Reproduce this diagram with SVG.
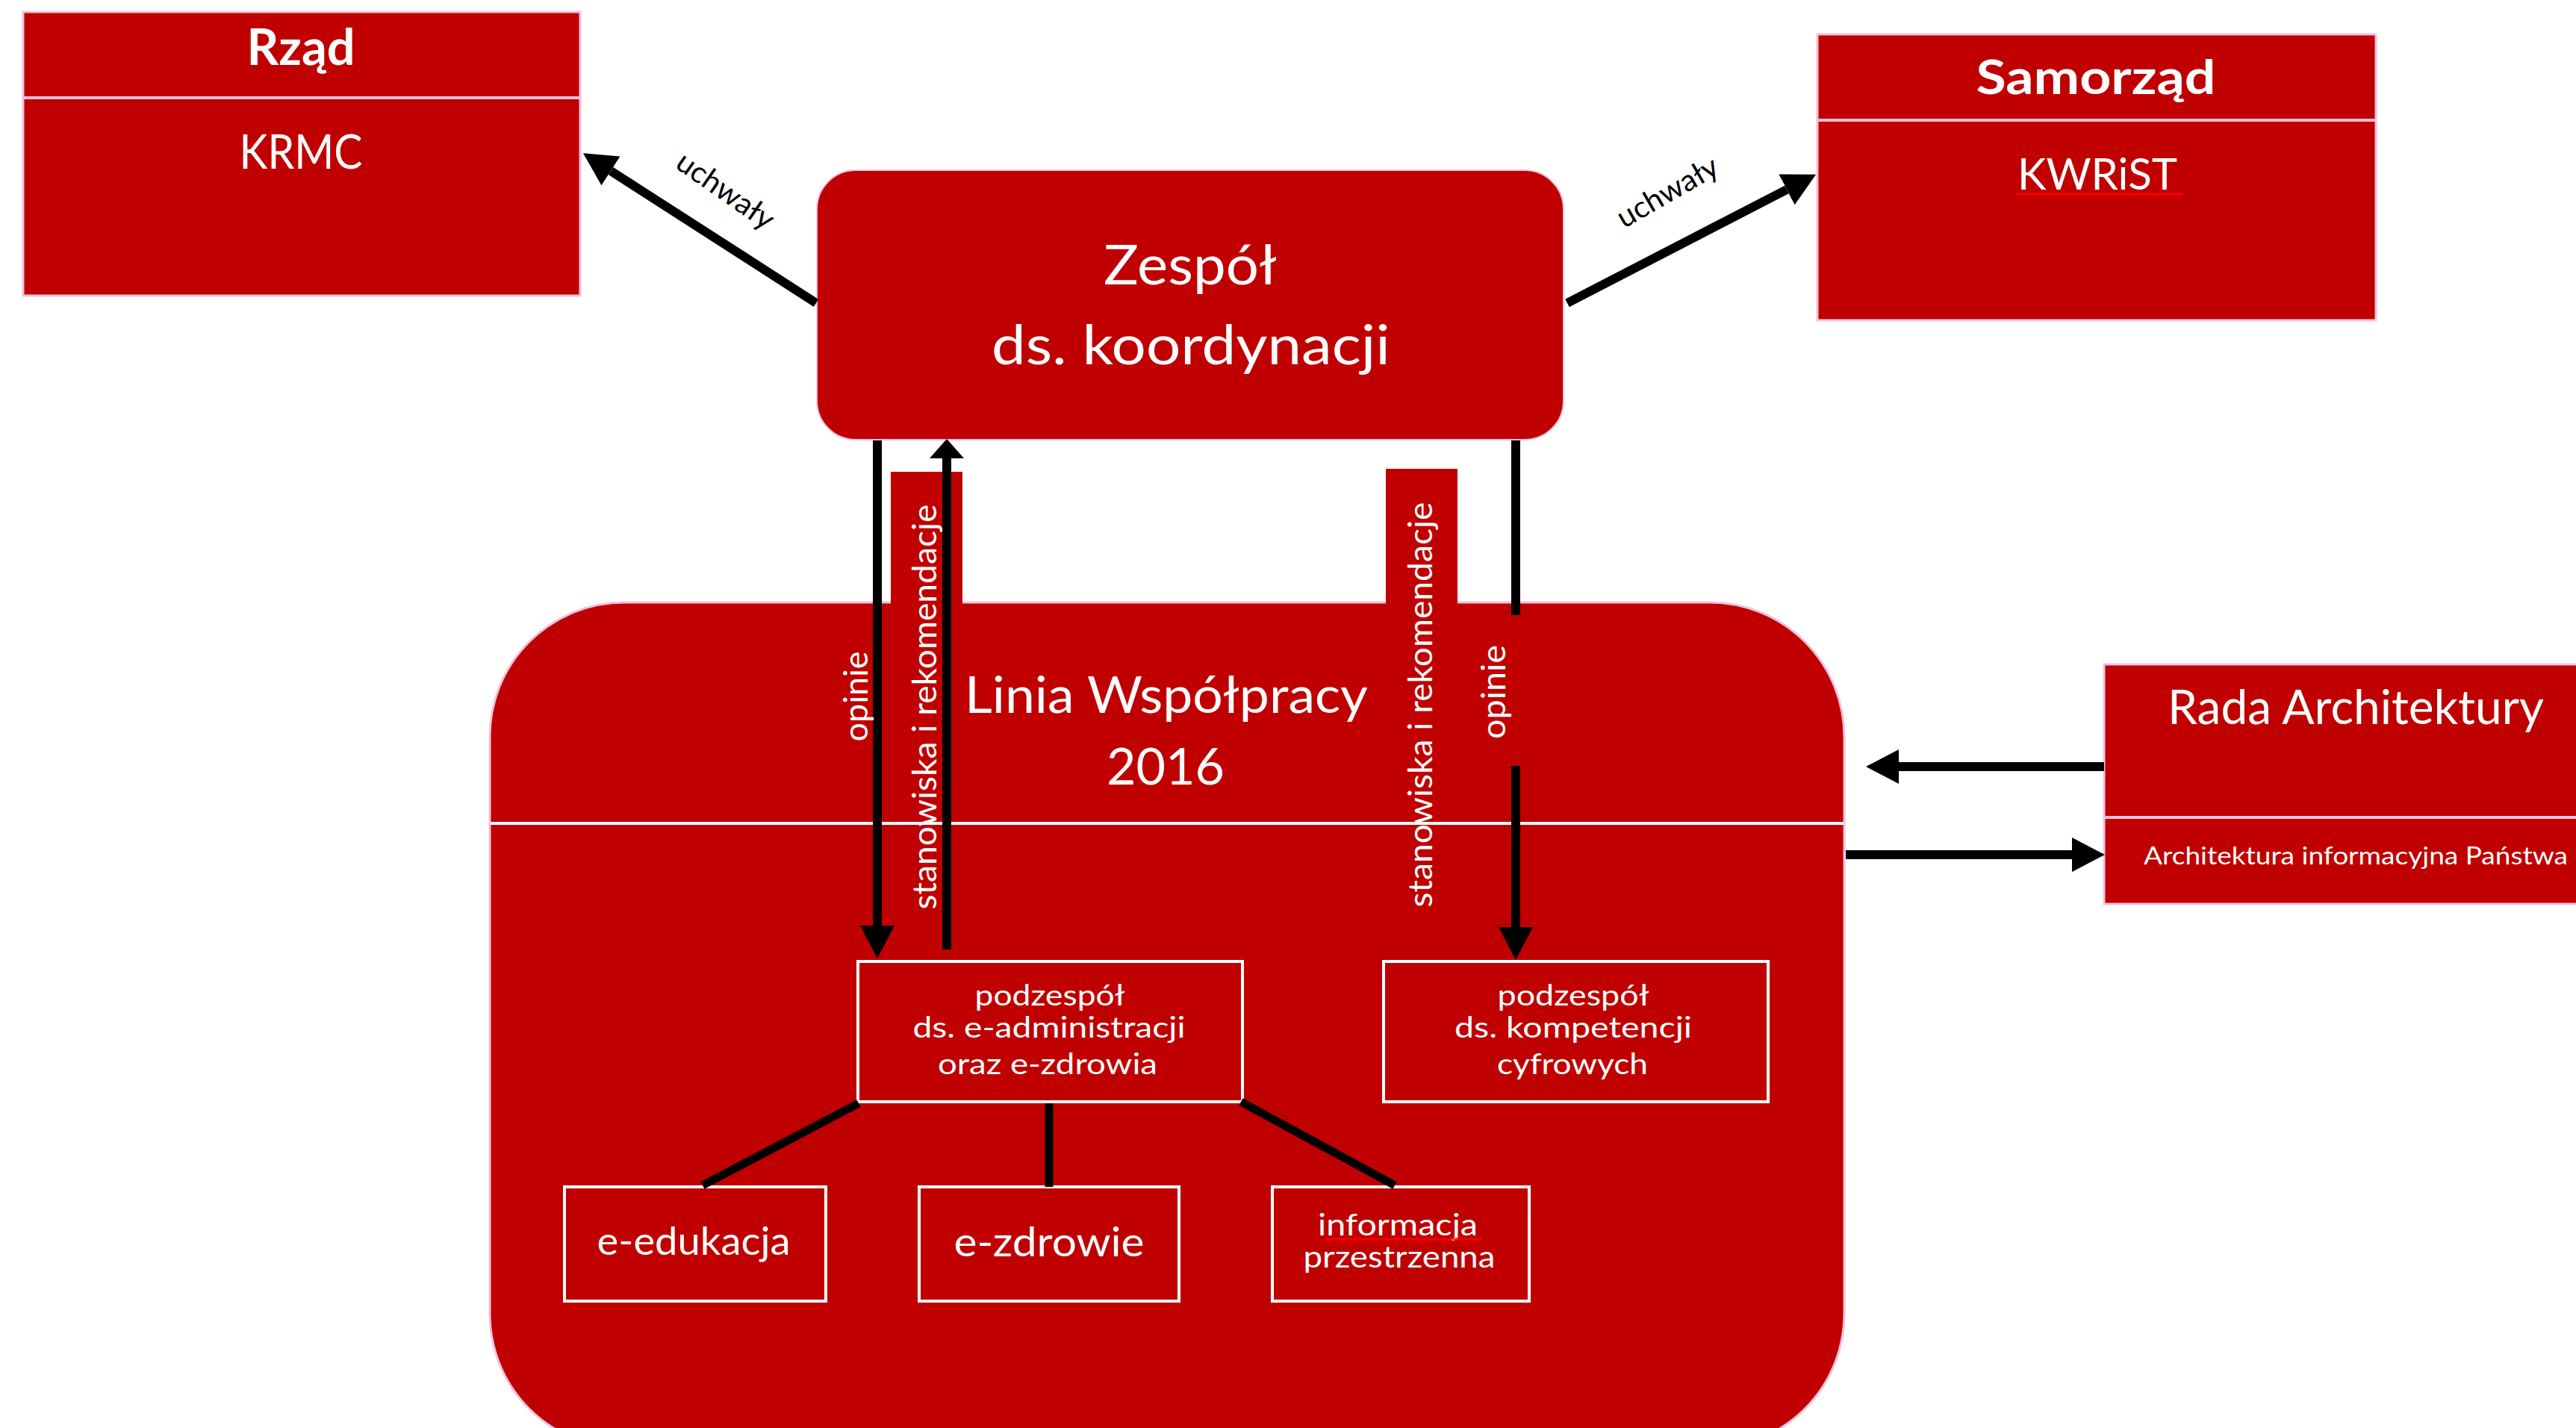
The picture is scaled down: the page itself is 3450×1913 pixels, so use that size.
<svg xmlns="http://www.w3.org/2000/svg" width="3450" height="1913" viewBox="0 0 3450 1913">
<style>
.red{fill:#C00000}
.pk{stroke:#F0C2DD;stroke-width:3}
.wb{fill:#C00000;stroke:#FFFFFF;stroke-width:4}
.t{font-family:Lato,"Noto Sans","Liberation Sans",sans-serif;fill:#FFFFFF;text-anchor:middle;font-weight:400}
.b{font-weight:700}
.k{fill:#000000}
.ln{stroke:#000000;stroke-width:12;fill:none}
.tr{stroke:#000000;stroke-width:11;fill:none}
.dv{stroke:#F0C2DD;stroke-width:4}
</style>
<defs>
<marker id="ah" markerUnits="userSpaceOnUse" markerWidth="44" markerHeight="46" refX="0" refY="23" orient="auto">
<path d="M0,0 L44,23 L0,46 Z" fill="#000"/>
</marker>
<marker id="ahs" markerUnits="userSpaceOnUse" markerWidth="26" markerHeight="46" refX="0" refY="23" orient="auto">
<path d="M0,0 L26,23 L0,46 Z" fill="#000"/>
</marker>
<pattern id="squig" patternUnits="userSpaceOnUse" width="8" height="8">
<path d="M0,6 L2,2 L4,6 L6,2 L8,6" stroke="#FF0000" stroke-width="1.6" fill="none"/>
</pattern>
</defs>
<rect width="3450" height="1913" fill="#FFFFFF"/>

<g id="rzad">
<rect x="31" y="16" width="746" height="380" class="red pk"/>
<line x1="31" y1="131" x2="777" y2="131" class="dv"/>
<text x="403" y="87" class="t b" font-size="67" textLength="145" lengthAdjust="spacingAndGlyphs">Rząd</text>
<text x="403" y="226" class="t" font-size="64" textLength="165" lengthAdjust="spacingAndGlyphs">KRMC</text>
</g>

<g id="samorzad">
<rect x="2434" y="46" width="748" height="383" class="red pk"/>
<line x1="2434" y1="161" x2="3182" y2="161" class="dv"/>
<text x="2807" y="126" class="t b" font-size="64" textLength="321" lengthAdjust="spacingAndGlyphs">Samorząd</text>
<text x="2809" y="254" class="t" font-size="59" textLength="214" lengthAdjust="spacingAndGlyphs">KWRiST</text>
<rect x="2700" y="258" width="223" height="8" fill="url(#squig)"/>
</g>

<g id="zespol">
<rect x="1094" y="228" width="1000" height="361" rx="52" ry="52" class="red" stroke="#F0C2DD" stroke-width="2"/>
<text x="1594" y="381" class="t" font-size="74" textLength="232" lengthAdjust="spacingAndGlyphs">Zespół</text>
<text x="1595" y="488" class="t" font-size="74" textLength="534" lengthAdjust="spacingAndGlyphs">ds. koordynacji</text>
</g>

<g id="linia">
<rect x="656" y="807" width="1814" height="1133" rx="180" ry="180" class="red" stroke="#F0C2DD" stroke-width="3"/>
<line x1="657" y1="1103" x2="2469" y2="1103" stroke="#FFFFFF" stroke-width="4"/>
<text x="1562" y="955" class="t" font-size="68" textLength="540" lengthAdjust="spacingAndGlyphs">Linia Współpracy</text>
<text x="1561" y="1051" class="t" font-size="68" textLength="158" lengthAdjust="spacingAndGlyphs">2016</text>
</g>

<g id="tab-left">
<rect x="1193" y="632" width="96" height="185" class="red"/>
</g>
<g id="tab-right">
<rect x="1856" y="628" width="96" height="189" class="red"/>
</g>

<g id="rada">
<rect x="2818" y="890" width="645" height="321" class="red pk"/>
<line x1="2818" y1="1095" x2="3450" y2="1095" class="dv"/>
<text x="3155" y="970" class="t" font-size="63" textLength="504" lengthAdjust="spacingAndGlyphs">Rada Architektury</text>
<text x="3155" y="1158" class="t" font-size="32" textLength="568" lengthAdjust="spacingAndGlyphs">Architektura informacyjna Państwa</text>
</g>

<g id="podzespol-eadm">
<rect x="1149" y="1288" width="515" height="188" class="wb"/>
<text x="1406" y="1347" class="t" font-size="38" textLength="201" lengthAdjust="spacingAndGlyphs">podzespół</text>
<text x="1405" y="1390" class="t" font-size="38" textLength="365" lengthAdjust="spacingAndGlyphs">ds. e-administracji</text>
<text x="1403" y="1439" class="t" font-size="38" textLength="294" lengthAdjust="spacingAndGlyphs">oraz e-zdrowia</text>
</g>

<g id="podzespol-komp">
<rect x="1853" y="1288" width="515" height="188" class="wb"/>
<text x="2107" y="1347" class="t" font-size="38" textLength="203" lengthAdjust="spacingAndGlyphs">podzespół</text>
<text x="2107" y="1390" class="t" font-size="38" textLength="318" lengthAdjust="spacingAndGlyphs">ds. kompetencji</text>
<text x="2106" y="1439" class="t" font-size="38" textLength="202" lengthAdjust="spacingAndGlyphs">cyfrowych</text>
</g>

<g id="e-edukacja">
<rect x="756" y="1590" width="350" height="153" class="wb"/>
<text x="929" y="1681" class="t" font-size="52" textLength="259" lengthAdjust="spacingAndGlyphs">e-edukacja</text>
</g>

<g id="e-zdrowie">
<rect x="1231" y="1590" width="348" height="153" class="wb"/>
<text x="1405" y="1683" class="t" font-size="54" textLength="255" lengthAdjust="spacingAndGlyphs">e-zdrowie</text>
</g>

<g id="informacja">
<rect x="1704" y="1590" width="344" height="153" class="wb"/>
<text x="1872" y="1655" class="t" font-size="40" textLength="214" lengthAdjust="spacingAndGlyphs">informacja</text>
<rect x="1775" y="1658" width="210" height="8" fill="url(#squig)"/>
<text x="1874" y="1698" class="t" font-size="40" textLength="257" lengthAdjust="spacingAndGlyphs">przestrzenna</text>
</g>

<g id="connectors">
<line x1="1093" y1="406" x2="818" y2="229" class="ln" marker-end="url(#ah)"/>
<line x1="2099" y1="406" x2="2393" y2="254" class="ln" marker-end="url(#ah)"/>
<line x1="1175" y1="590" x2="1175" y2="1240" class="ln" marker-end="url(#ah)"/>
<line x1="1268" y1="1272" x2="1268" y2="614" class="ln" marker-end="url(#ahs)"/>
<line x1="2030" y1="590" x2="2030" y2="824" class="ln"/>
<line x1="2030" y1="1026" x2="2030" y2="1242" class="ln" marker-end="url(#ah)"/>
<line x1="2818" y1="1027" x2="2543" y2="1027" class="ln" marker-end="url(#ah)"/>
<line x1="2472" y1="1145" x2="2775" y2="1145" class="ln" marker-end="url(#ah)"/>
<line x1="1150" y1="1478" x2="941" y2="1588" class="tr"/>
<line x1="1405" y1="1478" x2="1405" y2="1590" class="tr"/>
<line x1="1662" y1="1476" x2="1868" y2="1588" class="tr"/>
<text transform="translate(972,255) rotate(35)" y="14" class="t k" font-size="40" textLength="150" lengthAdjust="spacingAndGlyphs">uchwały</text>
<text transform="translate(2233,257) rotate(-30)" y="14" class="t k" font-size="40" textLength="150" lengthAdjust="spacingAndGlyphs">uchwały</text>
<text transform="translate(1162,933) rotate(-90)" class="t" font-size="44" textLength="121" lengthAdjust="spacingAndGlyphs">opinie</text>
<text transform="translate(1254,947) rotate(-90)" class="t" font-size="44" textLength="543" lengthAdjust="spacingAndGlyphs">stanowiska i rekomendacje</text>
<text transform="translate(1918,944) rotate(-90)" class="t" font-size="44" textLength="543" lengthAdjust="spacingAndGlyphs">stanowiska i rekomendacje</text>
<text transform="translate(2016,927) rotate(-90)" class="t" font-size="44" textLength="126" lengthAdjust="spacingAndGlyphs">opinie</text>
</g>
</svg>
